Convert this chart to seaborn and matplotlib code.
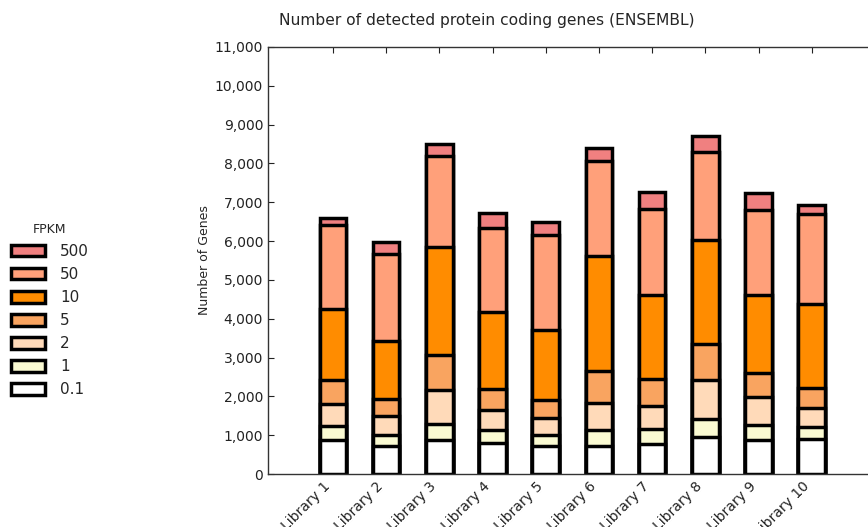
import matplotlib
matplotlib.use("Agg")
import matplotlib.pyplot as plt
from matplotlib.patches import Patch
from matplotlib.ticker import FuncFormatter
import numpy as np
import pandas as pd
import seaborn as sns

# Libraries and gene counts per FPKM threshold
libraries = ["Library %d" % i for i in range(1, 11)]
fpkm_levels = ["0.1", "1", "2", "5", "10", "50", "500"]
fpkm_0_1 = [863, 733, 863, 802, 733, 733, 777, 949, 863, 906]
fpkm_1 = [362, 259, 431, 320, 259, 389, 371, 475, 405, 302]
fpkm_2 = [587, 492, 880, 535, 458, 707, 595, 992, 717, 492]
fpkm_5 = [621, 457, 880, 526, 465, 828, 716, 923, 629, 517]
fpkm_10 = [1812, 1493, 2796, 1993, 1795, 2969, 2140, 2701, 1985, 2157]
fpkm_50 = [2157, 2243, 2347, 2157, 2459, 2441, 2217, 2260, 2200, 2313]
fpkm_500 = [198, 294, 302, 397, 319, 319, 449, 414, 431, 233]

colors = ["#ffffff", "#fafad2", "#ffdab9", "#f9a460", "#ff8c00", "#ffa07a", "#f08080"]

sns.set_style("ticks", {"xtick.direction": "in", "ytick.direction": "in"})

df = pd.DataFrame(
    np.array([fpkm_0_1, fpkm_1, fpkm_2, fpkm_5, fpkm_10, fpkm_50, fpkm_500]).T,
    index=libraries, columns=fpkm_levels,
)
cum = df.cumsum(axis=1)

fig = plt.figure(figsize=(8.68, 5.27), dpi=100)
ax = fig.add_axes([268 / 868, 53 / 527, 614 / 868, 427 / 527])

# stacked bars: draw cumulative totals from the top tier down
for level, color in reversed(list(zip(fpkm_levels, colors))):
    sns.barplot(x=cum.index, y=cum[level], order=libraries, color=color,
                saturation=1, width=0.5, edgecolor="black", linewidth=2.5,
                errorbar=None, ax=ax)

ax.set_xlim(-1.22, 10.32)
ax.set_ylim(0, 11000)
ax.set_yticks(range(0, 11001, 1000))
ax.yaxis.set_major_formatter(FuncFormatter(lambda v, p: "{:,.0f}".format(v)))
ax.tick_params(direction="in", top=True, right=True, length=4, width=0.8,
               labelsize=10, colors="#222222")
plt.setp(ax.get_xticklabels(), rotation=45, ha="right")
for s in ax.spines.values():
    s.set_linewidth(1.0)
    s.set_color("#333333")
ax.set_xlabel("")
ax.set_ylabel("Number of Genes", fontsize=9, labelpad=3)

fig.text(487 / 868, 1 - 20 / 527, "Number of detected protein coding genes (ENSEMBL)",
         ha="center", va="center", fontsize=11.2)

handles = [Patch(facecolor=c, edgecolor="black", linewidth=2.5, label=l)
           for l, c in zip(fpkm_levels, colors)][::-1]
leg = fig.legend(handles=handles, title="FPKM", loc="upper left",
                 bbox_to_anchor=(0.0, 1 - 212 / 527), frameon=False,
                 fontsize=11, title_fontsize=9, handlelength=2.25,
                 handleheight=0.8, handletextpad=1.0, labelspacing=0.53,
                 borderaxespad=0.3)

fig.savefig("out.png", dpi=100)
